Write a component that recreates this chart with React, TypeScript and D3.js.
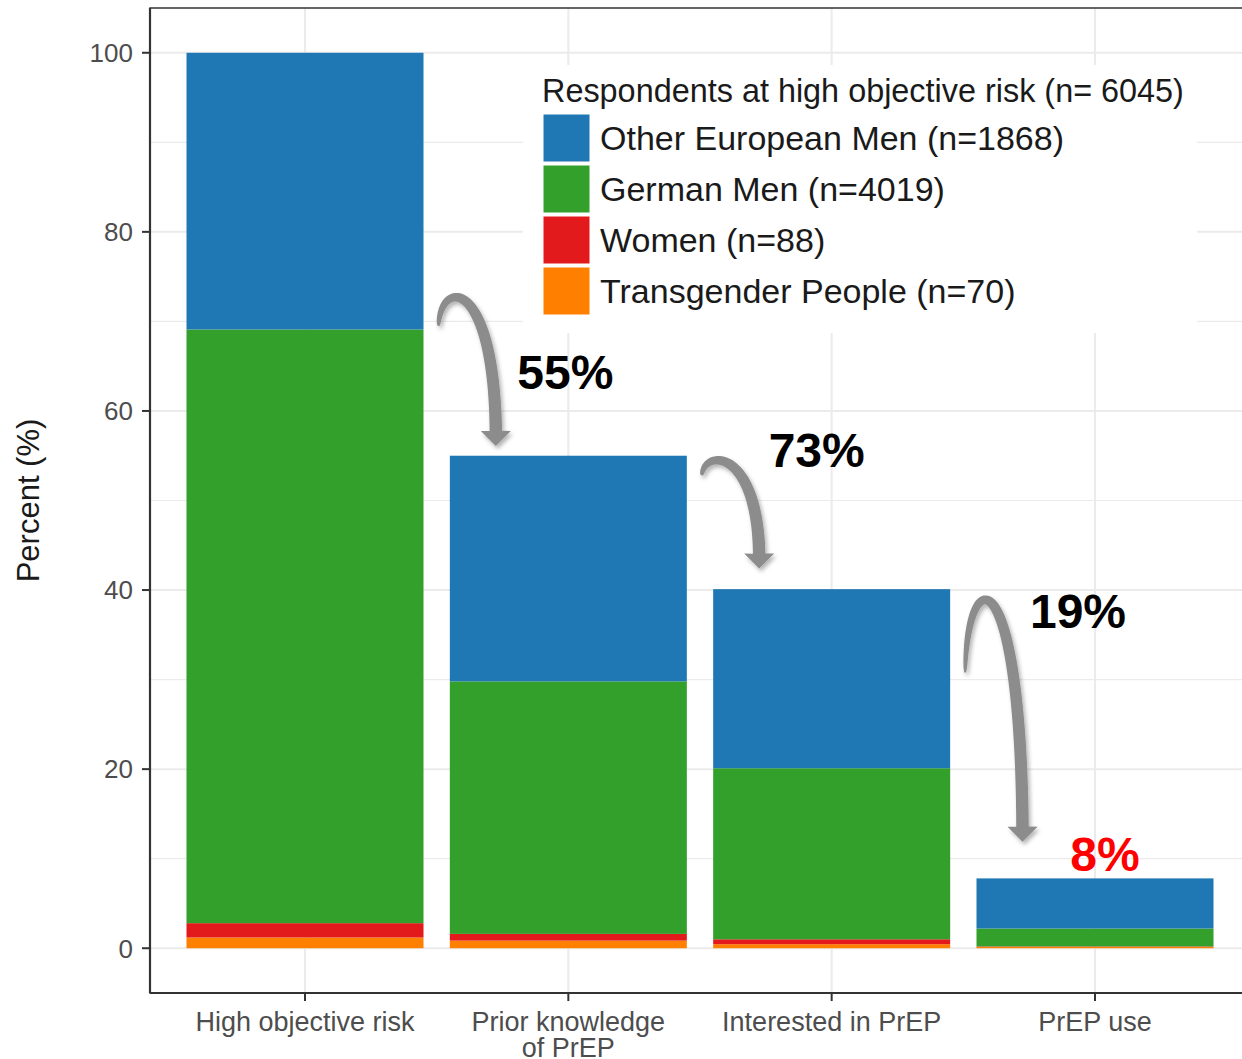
import React, { useEffect, useRef } from 'react';
import * as d3 from 'd3';

const categories = ['High objective risk', 'Prior knowledge\nof PrEP', 'Interested in PrEP', 'PrEP use'];
const groups = ['transgender', 'women', 'german', 'other'];
const transgender = [1.2, 0.85, 0.45, 0.15];
const women = [1.6, 0.75, 0.55, 0.05];
const germanMen = [66.3, 28.2, 19.1, 2.0];
const otherEuropeanMen = [30.9, 25.2, 20.0, 5.6];
const groupColors = ['#ff7f00', '#e31a1c', '#33a02c', '#1f78b4'];

const legendTitle = 'Respondents at high objective risk (n= 6045)';
const legendLabels = ['Other European Men (n=1868)', 'German Men (n=4019)', 'Women (n=88)', 'Transgender People (n=70)'];
const legendColors = ['#1f78b4', '#33a02c', '#e31a1c', '#ff7f00'];

const majorTicks = [0, 20, 40, 60, 80, 100];
const minorTicks = [10, 30, 50, 70, 90];

// conversion arrows between bars (y in percent units)
const arrowTail = [69.5, 52.8, 30.8];
const arrowPeak = [72.7, 54.5, 38.9];
const arrowTip = [56.1, 42.4, 11.9];
const conversionLabels = ['55%', '73%', '19%'];
const conversionLabelY = [62.5, 53.7, 35.8];
const conversionLabelShift = [-3, -15, -17];
const finalLabel = '8%';
const finalLabelY = 8.6;

const FONT = '"Liberation Sans", Arial, sans-serif';

export default function App() {
  const ref = useRef<SVGSVGElement>(null);

  useEffect(() => {
    document.body.style.margin = '0';
    const width = 1242;
    const height = 1059;
    const left = 150;
    const top = 8;
    const bottom = 993;
    const right = 1256;

    const svg = d3.select(ref.current);
    svg.selectAll('*').remove();
    svg.attr('width', width).attr('height', height);

    const defs = svg.append('defs');
    const f = defs.append('filter').attr('id', 'shadow').attr('x', '-50%').attr('y', '-50%').attr('width', '200%').attr('height', '200%');
    f.append('feDropShadow').attr('dx', 2).attr('dy', 3).attr('stdDeviation', 2).attr('flood-color', '#000').attr('flood-opacity', 0.3);

    const x = d3.scaleBand().domain(categories).range([left - 3, right - 3]).paddingInner(0.1).paddingOuter(0.15);
    const y = d3.scaleLinear().domain([-5, 105]).range([bottom, top]);

    // gridlines
    const grid = svg.append('g');
    grid.selectAll('.minor').data(minorTicks).join('line')
      .attr('x1', left).attr('x2', right)
      .attr('y1', (d) => y(d)).attr('y2', (d) => y(d))
      .attr('stroke', '#ebebeb').attr('stroke-width', 1.2);
    grid.selectAll('.major').data(majorTicks).join('line')
      .attr('x1', left).attr('x2', right)
      .attr('y1', (d) => y(d)).attr('y2', (d) => y(d))
      .attr('stroke', '#ebebeb').attr('stroke-width', 2);
    grid.selectAll('.vert').data(categories).join('line')
      .attr('x1', (d) => x(d)! + x.bandwidth() / 2).attr('x2', (d) => x(d)! + x.bandwidth() / 2)
      .attr('y1', top).attr('y2', bottom)
      .attr('stroke', '#ebebeb').attr('stroke-width', 2);

    // stacked bars
    const table = categories.map((c, i) => ({
      cat: c,
      transgender: transgender[i],
      women: women[i],
      german: germanMen[i],
      other: otherEuropeanMen[i],
    }));
    const series = d3.stack<any>().keys(groups)(table);
    svg.append('g').selectAll('g').data(series).join('g')
      .attr('fill', (d, i) => groupColors[i])
      .selectAll('rect').data((d) => d).join('rect')
      .attr('x', (d) => x(d.data.cat)!)
      .attr('width', x.bandwidth())
      .attr('y', (d) => y(d[1]))
      .attr('height', (d) => y(d[0]) - y(d[1]));

    // panel border + axes
    svg.append('rect').attr('x', left).attr('y', top).attr('width', right - left).attr('height', bottom - top)
      .attr('fill', 'none').attr('stroke', '#333').attr('stroke-width', 1.5);
    svg.append('line').attr('x1', left).attr('x2', left).attr('y1', top).attr('y2', bottom).attr('stroke', '#333').attr('stroke-width', 2.2);
    svg.append('line').attr('x1', left).attr('x2', right).attr('y1', bottom).attr('y2', bottom).attr('stroke', '#333').attr('stroke-width', 2.2);

    const yAxis = svg.append('g');
    yAxis.selectAll('line').data(majorTicks).join('line')
      .attr('x1', left - 8).attr('x2', left).attr('y1', (d) => y(d)).attr('y2', (d) => y(d))
      .attr('stroke', '#333').attr('stroke-width', 2);
    yAxis.selectAll('text').data(majorTicks).join('text')
      .attr('x', left - 17).attr('y', (d) => y(d)).attr('dy', '0.36em')
      .attr('text-anchor', 'end').attr('font-family', FONT).attr('font-size', 26).attr('fill', '#4d4d4d')
      .text((d) => d);

    const xAxis = svg.append('g');
    xAxis.selectAll('line').data(categories).join('line')
      .attr('x1', (d) => x(d)! + x.bandwidth() / 2).attr('x2', (d) => x(d)! + x.bandwidth() / 2)
      .attr('y1', bottom).attr('y2', bottom + 8)
      .attr('stroke', '#333').attr('stroke-width', 2);
    const xt = xAxis.selectAll('text').data(categories).join('text')
      .attr('x', (d) => x(d)! + x.bandwidth() / 2).attr('y', bottom + 38)
      .attr('text-anchor', 'middle').attr('font-family', FONT).attr('font-size', 27).attr('fill', '#4d4d4d');
    xt.each(function (d) {
      const lines = d.split('\n');
      d3.select(this).selectAll('tspan').data(lines).join('tspan')
        .attr('x', x(d)! + x.bandwidth() / 2)
        .attr('dy', (l, i) => (i === 0 ? 0 : 26))
        .text((l) => l);
    });

    svg.append('text')
      .attr('transform', `translate(39, ${(top + bottom) / 2}) rotate(-90)`)
      .attr('text-anchor', 'middle').attr('font-family', FONT).attr('font-size', 31).attr('fill', '#1a1a1a')
      .text('Percent (%)');

    // legend
    const lg = svg.append('g');
    lg.append('rect').attr('x', 523).attr('y', 65).attr('width', 674).attr('height', 268).attr('fill', '#fff');
    lg.append('text').attr('x', 542).attr('y', 102).attr('font-family', FONT).attr('font-size', 32.4).attr('fill', '#1a1a1a')
      .text(legendTitle);
    legendLabels.forEach((lab, i) => {
      const ky = 114 + i * 51;
      lg.append('rect').attr('x', 543).attr('y', ky).attr('width', 47).attr('height', 48)
        .attr('fill', legendColors[i]).attr('stroke', '#fff').attr('stroke-width', 1);
      lg.append('text').attr('x', 600).attr('y', ky + 24).attr('dy', '0.36em')
        .attr('font-family', FONT).attr('font-size', 34).attr('fill', '#1a1a1a').text(lab);
    });

    // curved conversion arrows
    const cubic = (p: number[][], t: number) => {
      const u = 1 - t;
      return [0, 1].map((k) => u * u * u * p[0][k] + 3 * u * u * t * p[1][k] + 3 * u * t * t * p[2][k] + t * t * t * p[3][k]);
    };
    const arrowShape = (tail: number[], peakY: number, tip: number[]) => {
      const headL = 15;
      const headW = 30;
      const base = [tip[0], tip[1] - headL];
      // find control height so the arc top sits at peakY
      let lo = peakY - 200;
      let hi = peakY;
      let pts: number[][] = [];
      for (let it = 0; it < 40; it++) {
        const c = (lo + hi) / 2;
        pts = [tail, [tail[0] + 2, c], [base[0] - 2, c], base];
        let minY = Infinity;
        for (let t = 0; t <= 1; t += 0.01) minY = Math.min(minY, cubic(pts, t)[1]);
        if (minY < peakY) lo = c; else hi = c;
      }
      const n = 60;
      const leftSide: number[][] = [];
      const rightSide: number[][] = [];
      for (let i = 0; i <= n; i++) {
        const t = i / n;
        const p = cubic(pts, t);
        const q = cubic(pts, Math.min(1, t + 0.001));
        const r = cubic(pts, Math.max(0, t - 0.001));
        let dx = q[0] - r[0];
        let dy = q[1] - r[1];
        const len = Math.hypot(dx, dy) || 1;
        dx /= len; dy /= len;
        const w = (2 + 10.5 * Math.pow(t, 0.45)) / 2;
        leftSide.push([p[0] - dy * w, p[1] + dx * w]);
        rightSide.push([p[0] + dy * w, p[1] - dx * w]);
      }
      const end = cubic(pts, 1);
      const poly = [
        ...leftSide,
        [end[0] - headW / 2, end[1]],
        tip,
        [end[0] + headW / 2, end[1]],
        ...rightSide.reverse(),
      ];
      return 'M' + poly.map((p) => p.join(',')).join('L') + 'Z';
    };

    const arrows = svg.append('g').attr('filter', 'url(#shadow)');
    arrowTail.forEach((v, i) => {
      const tailX = x(categories[i])! + x.bandwidth() + 15;
      const tipX = x(categories[i + 1])! + 46;
      arrows.append('path')
        .attr('d', arrowShape([tailX, y(v)], y(arrowPeak[i]), [tipX, y(arrowTip[i])]))
        .attr('fill', '#8c8c8c');
    });

    conversionLabels.forEach((lab, i) => {
      svg.append('text')
        .attr('x', x(categories[i + 1])! + x.bandwidth() / 2 + conversionLabelShift[i])
        .attr('y', y(conversionLabelY[i]))
        .attr('text-anchor', 'middle').attr('font-family', FONT).attr('font-weight', 'bold')
        .attr('font-size', 48).attr('fill', '#000').text(lab);
    });
    svg.append('text')
      .attr('x', x(categories[3])! + x.bandwidth() / 2 + 10)
      .attr('y', y(finalLabelY))
      .attr('text-anchor', 'middle').attr('font-family', FONT).attr('font-weight', 'bold')
      .attr('font-size', 48).attr('fill', '#ff0000').text(finalLabel);
  }, []);

  return <svg ref={ref} style={{ display: 'block' }} />;
}
